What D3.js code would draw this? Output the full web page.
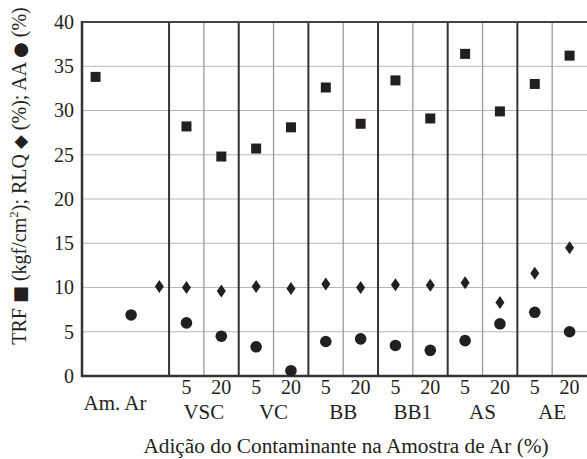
<!DOCTYPE html>
<html>
<head>
<meta charset="utf-8">
<script src="https://cdn.jsdelivr.net/npm/d3@7/dist/d3.min.js"></script>
<style>
  html, body { margin: 0; padding: 0; background: #fff; }
  svg { display: block; }
  text { font-family: "Liberation Serif", "Times New Roman", serif; fill: #231f20; }
</style>
</head>
<body>
<svg id="chart" width="587" height="459"></svg>
<script>
// ---- data ----
const groups = ["Am. Ar", "VSC", "VC", "BB", "BB1", "AS", "AE"];
const levels = ["5", "20"];
// first value: Am. Ar (reference sample), then 5 and 20 % for each contaminant
const trf = [33.8, 28.2, 24.8, 25.7, 28.1, 32.6, 28.5, 33.4, 29.1, 36.4, 29.9, 33.0, 36.2];
const rlq = [10.1, 10.0, 9.6, 10.1, 9.9, 10.4, 10.0, 10.3, 10.25, 10.55, 8.3, 11.6, 14.5];
const aa  = [6.9, 6.0, 4.5, 3.3, 0.6, 3.9, 4.2, 3.45, 2.9, 4.0, 5.9, 7.2, 5.0];
const yTicks = [0, 5, 10, 15, 20, 25, 30, 35, 40];

// ---- layout ----
const svg = d3.select("#chart");
const pL = 82, pR = 587, pT = 22, pB = 376;
const refWidth = 2.5;               // width of the "Am. Ar" region in slot units
const nSlots = refWidth + (groups.length - 1) * levels.length;
const x = d3.scaleLinear().domain([0, nSlots]).range([pL, pR]);
const y = d3.scaleLinear().domain([0, 40]).range([pB, pT]);
const refOffset = { trf: 0.39, aa: 1.41, rlq: 2.22 };

function slotX(i, series) {
  if (i === 0) return x(refOffset[series]);
  return x(refWidth + (i - 1) + 0.5);
}

// horizontal grid
svg.append("g").selectAll("line").data(yTicks.filter(d => d > 0 && d < 40)).join("line")
  .attr("x1", pL).attr("x2", pR)
  .attr("y1", d => y(d)).attr("y2", d => y(d))
  .attr("stroke", "#b8b8b8").attr("stroke-width", 1);

// vertical thin lines (between 5 and 20)
svg.append("g").selectAll("line").data(groups.slice(1)).join("line")
  .attr("x1", (d, i) => x(refWidth + i * 2 + 1)).attr("x2", (d, i) => x(refWidth + i * 2 + 1))
  .attr("y1", pT).attr("y2", pB)
  .attr("stroke", "#9a9a9a").attr("stroke-width", 1.3);

// vertical thick lines (group separators)
svg.append("g").selectAll("line").data(groups.slice(1)).join("line")
  .attr("x1", (d, i) => x(refWidth + i * 2)).attr("x2", (d, i) => x(refWidth + i * 2))
  .attr("y1", pT).attr("y2", pB)
  .attr("stroke", "#333").attr("stroke-width", 2);

// frame: top, left, bottom
svg.append("line").attr("x1", pL).attr("x2", pR).attr("y1", pT).attr("y2", pT)
  .attr("stroke", "#444").attr("stroke-width", 2);
svg.append("line").attr("x1", pL).attr("x2", pL).attr("y1", pT - 1).attr("y2", pB + 1)
  .attr("stroke", "#333").attr("stroke-width", 2.5);
svg.append("line").attr("x1", pL - 1).attr("x2", pR).attr("y1", pB).attr("y2", pB)
  .attr("stroke", "#333").attr("stroke-width", 2.5);

// y axis labels
const yAxis = d3.axisLeft(y).tickValues(yTicks).tickSize(0).tickPadding(8);
const gy = svg.append("g").attr("transform", `translate(${pL},0)`).call(yAxis);
gy.select(".domain").remove();
gy.selectAll("text").attr("font-size", 20).style("font-family", "'Liberation Serif', serif").attr("fill", "#231f20");

// x tick labels
const tickData = [];
groups.slice(1).forEach((g, gi) => levels.forEach((l, li) => tickData.push({ l, i: 1 + gi * 2 + li })));
svg.append("g").selectAll("text").data(tickData).join("text")
  .attr("x", d => slotX(d.i)).attr("y", 394)
  .attr("text-anchor", "middle").attr("font-size", 20).text(d => d.l);

// group labels
svg.append("g").selectAll("text").data(groups.slice(1)).join("text")
  .attr("x", (d, i) => x(refWidth + i * 2 + 1)).attr("y", 419)
  .attr("text-anchor", "middle").attr("font-size", 21).text(d => d);
svg.append("text").attr("x", 115).attr("y", 410).attr("text-anchor", "middle")
  .attr("font-size", 21).text(groups[0]);

// x title
svg.append("text").attr("x", 346).attr("y", 453).attr("text-anchor", "middle")
  .attr("font-size", 21.3).text("Adição do Contaminante na Amostra de Ar (%)");

// y title
const yt = svg.append("text").attr("transform", "translate(26,176) rotate(-90)")
  .attr("text-anchor", "middle").attr("font-size", 20);
yt.append("tspan").text("TRF ");
yt.append("tspan").style("font-family", "'DejaVu Sans', sans-serif").attr("font-size", 18).text("■");
yt.append("tspan").text(" (kgf/cm");
yt.append("tspan").attr("font-size", 13).attr("dy", -8).text("2");
yt.append("tspan").attr("dy", 8).text("); RLQ ");
yt.append("tspan").style("font-family", "'DejaVu Sans', sans-serif").attr("font-size", 18).text("◆");
yt.append("tspan").text(" (%); AA ");
yt.append("tspan").style("font-family", "'DejaVu Sans', sans-serif").attr("font-size", 18).text("●");
yt.append("tspan").text(" (%)");

const ink = "#231f20";
// TRF squares
const sq = 10;
svg.append("g").selectAll("rect").data(trf).join("rect")
  .attr("x", (d, i) => slotX(i, "trf") - sq / 2).attr("y", d => y(d) - sq / 2)
  .attr("width", sq).attr("height", sq).attr("fill", ink);

// RLQ diamonds
const dw = 4.5, dh = 6.5;
svg.append("g").selectAll("path").data(rlq).join("path")
  .attr("transform", (d, i) => `translate(${slotX(i, "rlq")},${y(d)})`)
  .attr("d", `M0,${-dh}L${dw},0L0,${dh}L${-dw},0Z`).attr("fill", ink);

// AA circles
svg.append("g").selectAll("circle").data(aa).join("circle")
  .attr("cx", (d, i) => slotX(i, "aa")).attr("cy", d => y(d))
  .attr("r", 5.8).attr("fill", ink);
</script>
</body>
</html>
